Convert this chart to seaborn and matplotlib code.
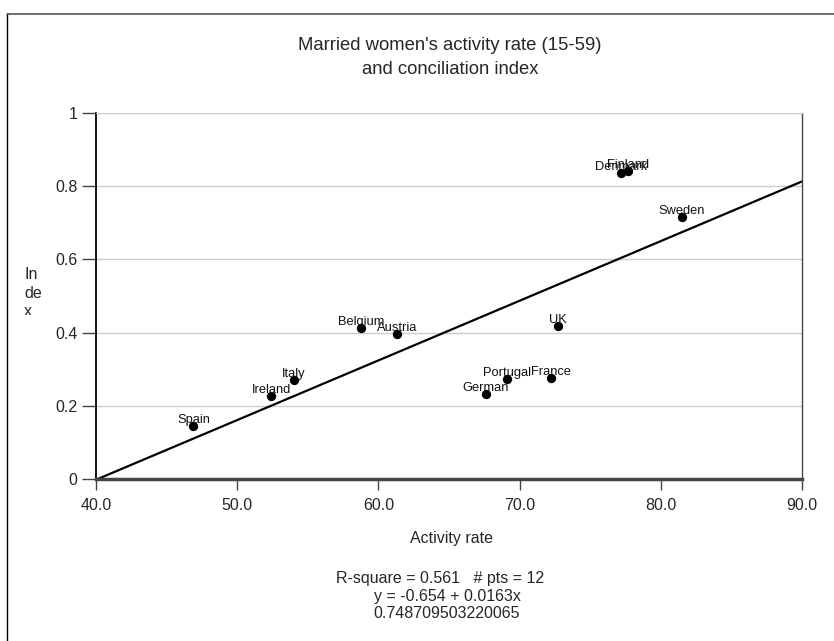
import matplotlib
matplotlib.use("Agg")
import matplotlib.pyplot as plt
import seaborn as sns
import pandas as pd
from matplotlib.lines import Line2D
from matplotlib.transforms import Bbox, TransformedBbox

# country data
countries = ["Spain", "Ireland", "Italy", "Belgium", "Austria", "German",
             "Portugal", "France", "UK", "Sweden", "Denmark", "Finland"]
activity = [46.9, 52.4, 54.0, 58.8, 61.3, 67.6, 69.1, 72.2, 72.7, 81.5, 77.2, 77.7]
index_val = [0.146, 0.228, 0.270, 0.413, 0.397, 0.233, 0.273, 0.276, 0.419, 0.716, 0.835, 0.841]

# regression given in the chart footer
intercept = -0.654
slope = 0.0163
fit_x = [40.0, 90.0]

df = pd.DataFrame({"country": countries, "activity": activity, "index": index_val})
fit = pd.DataFrame({"x": fit_x, "y": [intercept + slope * v for v in fit_x]})

sns.set_style("white")
plt.rcParams["font.family"] = ["Liberation Sans", "DejaVu Sans"]

W, H = 834, 641
fig = plt.figure(figsize=(W / 100, H / 100), dpi=100)
ax = fig.add_axes([96 / W, 1 - 479 / H, 706 / W, 366 / H])

for yv in [0.2, 0.4, 0.6, 0.8, 1.0]:
    ax.axhline(yv, color="#cccccc", lw=1, zorder=0)

sns.lineplot(data=fit, x="x", y="y", ax=ax, color="black", lw=1.6, zorder=2)
sns.scatterplot(data=df, x="activity", y="index", ax=ax, color="black",
                s=45, linewidth=0, zorder=3)

for _, r in df.iterrows():
    ax.text(r["activity"], r["index"] + 0.008, r["country"], ha="center",
            va="baseline", fontsize=9.3, color="#111111", zorder=4)

ax.set_xlim(40, 90)
ax.set_ylim(0, 1)
ax.set_xticks([40, 50, 60, 70, 80, 90])
ax.set_xticklabels(["40.0", "50.0", "60.0", "70.0", "80.0", "90.0"], fontsize=11.5)
ax.set_yticks([0, 0.2, 0.4, 0.6, 0.8, 1.0])
ax.set_yticklabels(["0", "0.2", "0.4", "0.6", "0.8", "1"], fontsize=11.5)
ax.tick_params(axis="x", direction="out", length=8, width=1, color="#444444",
               bottom=True, pad=6)
ax.tick_params(axis="y", direction="out", length=10, width=1, color="#444444",
               left=True, pad=3.5)
ax.set_xlabel("")
ax.set_ylabel("")

ax.spines["top"].set_color("#cccccc")
ax.spines["left"].set_color("black")
ax.spines["left"].set_linewidth(1.3)
ax.spines["right"].set_color("#444444")
ax.spines["right"].set_linewidth(1)
ax.spines["bottom"].set_color("#444444")
ax.spines["bottom"].set_linewidth(2.5)

fig.text(450 / W, 1 - 46 / H, "Married women's activity rate (15-59)",
         ha="center", va="center", fontsize=13.3)
fig.text(450 / W, 1 - 69 / H, "and conciliation index",
         ha="center", va="center", fontsize=13.3)

fig.text(451 / W, 1 - 538 / H, "Activity rate", ha="center", va="center",
         fontsize=11.5)

# y label is wrapped and cut off in the original
ylab = fig.text(24 / W, 1 - 267 / H, "In\nde\nx", ha="left", va="top",
                fontsize=11.5, linespacing=1.3)
ylab.set_clip_box(TransformedBbox(Bbox([[0, 1 - 315 / H], [1, 1]]), fig.transFigure))
ylab.set_clip_on(True)

footer = ["R-square = 0.561   # pts = 12", "y = -0.654 + 0.0163x", "0.748709503220065"]
footer_x = [440.5, 447, 447]
footer_y = [578, 597, 614]
for line, fx, fy in zip(footer, footer_x, footer_y):
    fig.text(fx / W, 1 - fy / H, line, ha="center", va="center", fontsize=11.5)

# outer frame
fig.add_artist(Line2D([7 / W, 7 / W], [1 - 14 / H, 0], transform=fig.transFigure,
                      color="black", lw=1))
fig.add_artist(Line2D([7 / W, 1], [1 - 14 / H, 1 - 14 / H], transform=fig.transFigure,
                      color="#555555", lw=1.2))

fig.savefig("out.png", dpi=100)
